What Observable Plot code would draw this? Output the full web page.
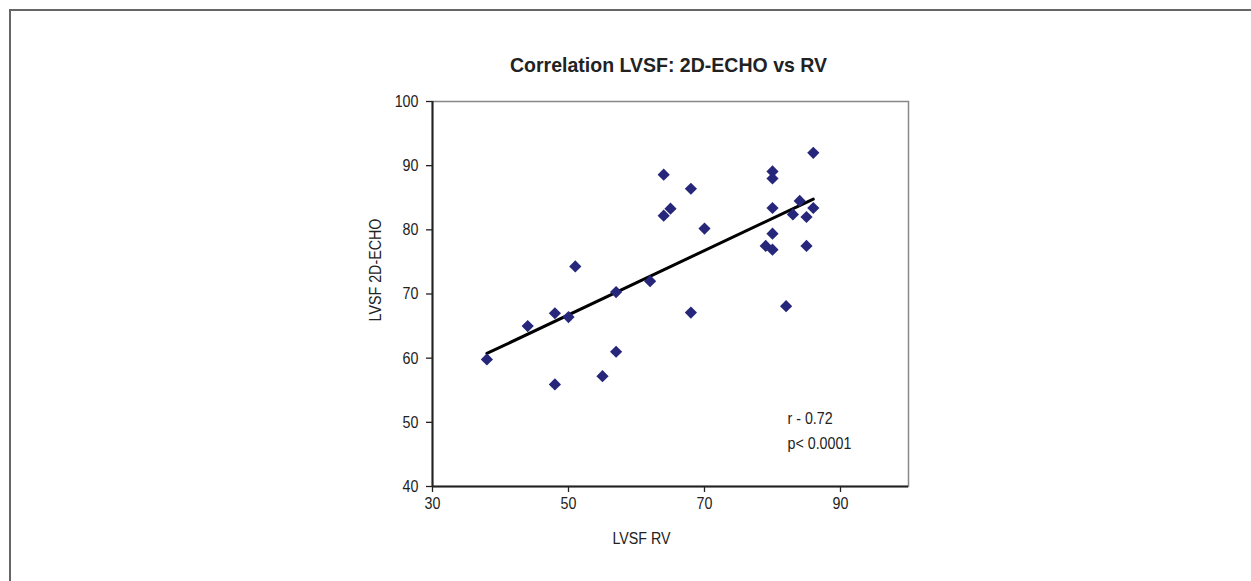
<!DOCTYPE html>
<html>
<head>
<meta charset="utf-8">
<script src="https://cdn.jsdelivr.net/npm/d3@7"></script>
<script src="https://cdn.jsdelivr.net/npm/@observablehq/plot@0.6"></script>
<style>
  html, body { margin: 0; padding: 0; background: #fff; }
  #wrap { position: relative; width: 1251px; height: 581px; overflow: hidden; }
  #frame { position: absolute; left: 9px; top: 9px; right: -10px; bottom: -10px;
           border-top: 2px solid #666; border-left: 2px solid #666; }
  #chart { position: absolute; left: 0; top: 0; }
</style>
</head>
<body>
<div id="wrap"><div id="frame"></div><div id="chart"></div></div>
<script>
// LVSF RV (x) and LVSF 2D-ECHO (y)
const lvsfRV = [38, 44, 48, 50, 48, 51, 55, 57, 57, 62, 64, 64, 65, 68, 70, 68,
                80, 80, 80, 80, 79, 80, 84, 83, 85, 86, 86, 85, 82];
const lvsfEcho = [59.8, 65.0, 67.0, 66.4, 55.9, 74.3, 57.2, 61.0, 70.3, 72.0, 88.6, 82.2, 83.3, 86.4, 80.2, 67.1,
                  89.1, 88.0, 83.4, 79.4, 77.5, 76.9, 84.5, 82.4, 82.0, 83.4, 92.0, 77.5, 68.1];
const xTicks = [30, 50, 70, 90];
const yTicks = [40, 50, 60, 70, 80, 90, 100];
const title = "Correlation LVSF: 2D-ECHO vs RV";
const xLabel = "LVSF RV";
const yLabel = "LVSF 2D-ECHO";
const statLines = ["r - 0.72", "p< 0.0001"];
const statAt = {x: 82.2, y: 49.0};

const data = lvsfRV.map((x, i) => ({x, y: lvsfEcho[i]}));
const font = "'Liberation Sans', Arial, sans-serif";

const chart = Plot.plot({
  width: 1251,
  height: 581,
  marginLeft: 432,
  marginRight: 343,
  marginTop: 101,
  marginBottom: 95,
  style: {fontFamily: font, fontSize: "17px", color: "#222", background: "transparent"},
  x: {domain: [30, 100], ticks: xTicks},
  y: {domain: [40, 100], ticks: yTicks},
  marks: [
    Plot.frame({stroke: "#888", strokeWidth: 1.5}),
    Plot.axisX({ticks: xTicks, tickSize: 6, tickPadding: 4, label: null, stroke: "#222", strokeWidth: 1.3}),
    Plot.axisY({ticks: yTicks, tickSize: 6, tickPadding: 8, label: null, stroke: "#222", strokeWidth: 1.3}),
    Plot.ruleX([30], {stroke: "#222", strokeWidth: 2}),
    Plot.ruleY([40], {stroke: "#222", strokeWidth: 2}),
    Plot.linearRegressionY(data, {x: "x", y: "y", ci: 0, stroke: "#000", strokeWidth: 3}),
    Plot.dot(data, {x: "x", y: "y", symbol: "diamond2", r: 5.5, fill: "#26277a", stroke: null}),
    Plot.text([statLines.join("\n")], {x: () => statAt.x, y: () => statAt.y, textAnchor: "start", lineAnchor: "middle",
      lineHeight: 1.42, fontSize: 17, fill: "#222"}),
    Plot.text([title], {frameAnchor: "top", dy: -44, dx: -2, fontSize: 21, fontWeight: "bold", fill: "#222"}),
    Plot.text([xLabel], {frameAnchor: "bottom", dy: 57, dx: -29, fontSize: 17, fill: "#222"}),
    Plot.text([yLabel], {frameAnchor: "left", textAnchor: "middle", rotate: -90, dx: -57, dy: -24, fontSize: 17, fill: "#222"})
  ]
});

// Condense the text horizontally (around its own anchor) to imitate the narrow face of the original
d3.select(chart).selectAll("text").each(function() {
  const el = d3.select(this);
  const isTitle = el.text() === title;
  const s = isTitle ? 0.93 : 0.84;
  let x = parseFloat(el.attr("x"));
  if (!isFinite(x)) x = 0;
  const t = el.attr("transform") || "";
  el.attr("transform", `${t} translate(${x},0) scale(${s},1) translate(${-x},0)`.trim());
});

document.getElementById("chart").appendChild(chart);
</script>
</body>
</html>
